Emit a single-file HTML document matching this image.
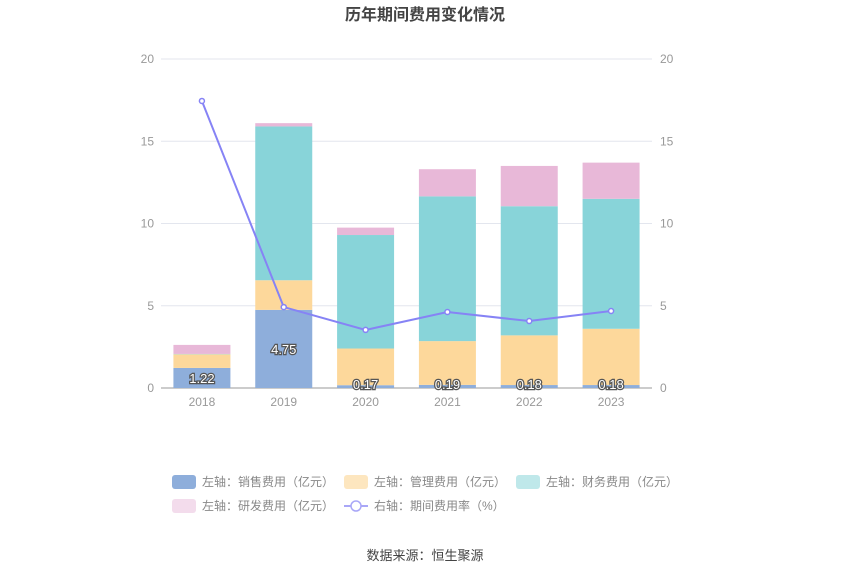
<!DOCTYPE html>
<html><head><meta charset="utf-8"><style>
body{margin:0;background:#fff;font-family:"Liberation Sans","Noto Sans CJK SC",sans-serif;}
</style></head><body>
<svg id="c" width="850" height="574" xmlns="http://www.w3.org/2000/svg" style="font-family:'Liberation Sans','Noto Sans CJK SC',sans-serif">
<text x="425" y="20" text-anchor="middle" font-size="16" font-weight="bold" fill="#444">历年期间费用变化情况</text>
<g id="grid"></g><g id="bars"></g><g id="line"></g><g id="labels"></g>
<g font-size="12" fill="#888">
<g><rect x="172" y="475" width="24" height="14" rx="3" fill="#8eaedb"/><text x="202" y="486">左轴：销售费用（亿元）</text></g>
<g><rect x="344" y="475" width="24" height="14" rx="3" fill="#fde6bf"/><text x="374" y="486">左轴：管理费用（亿元）</text></g>
<g><rect x="516" y="475" width="24" height="14" rx="3" fill="#bfe8ea"/><text x="546" y="486">左轴：财务费用（亿元）</text></g>
<g><rect x="172" y="499" width="24" height="14" rx="3" fill="#f3dcec"/><text x="202" y="510">左轴：研发费用（亿元）</text></g>
<g><line x1="344" y1="506" x2="368" y2="506" stroke="#a9a7f7" stroke-width="2"/><circle cx="356" cy="506" r="5" fill="#fff" stroke="#a9a7f7" stroke-width="1.5"/><text x="374" y="510">右轴：期间费用率（%）</text></g>
</g>
<text x="425" y="560" text-anchor="middle" font-size="13" fill="#444">数据来源：恒生聚源</text>
</svg>
<script>
const categories=["2018","2019","2020","2021","2022","2023"];
const sales=[1.22,4.75,0.17,0.19,0.18,0.18];
const mgmt=[0.83,1.8,2.23,2.66,3.02,3.42];
const finance=[0.02,9.35,6.9,8.8,7.85,7.9];
const rnd=[0.55,0.2,0.45,1.65,2.45,2.2];
const rate=[17.45,4.92,3.53,4.62,4.07,4.68];
const ticks=[0,5,10,15,20];
const NS="http://www.w3.org/2000/svg";
const x0=161,x1=652,yTop=59,yBot=388,maxV=20;
const bw=(x1-x0)/categories.length;
const y=v=>yBot-(v/maxV)*(yBot-yTop);
const cx=i=>x0+bw*(i+0.5);
function mk(t,a,p){const e=document.createElementNS(NS,t);for(const k in a)e.setAttribute(k,a[k]);p.appendChild(e);return e;}
const g=document.getElementById('grid');
ticks.forEach(t=>{
 const l=mk('line',{x1:x0,x2:x1,y1:y(t),y2:y(t),stroke:t===0?'#999':'#e3e6ee'},g);
 
 
 const a=mk('text',{x:154,y:y(t)+4,'text-anchor':'end','font-size':12,fill:'#999'},g);a.textContent=t;
 
 
 const b=mk('text',{x:660,y:y(t)+4,'font-size':12,fill:'#999'},g);b.textContent=t;
 
 
});
categories.forEach((c,i)=>{
 const t=mk('text',{x:cx(i),y:406,'text-anchor':'middle','font-size':12,fill:'#999'},g);t.textContent=c;
 
 
});
const bars=document.getElementById('bars');
const series=[[sales,'#8eaedb','sales'],[mgmt,'#fdd89b','management'],[finance,'#88d4d9','finance'],[rnd,'#e8b8d8','rnd']];
const bwid=57;
categories.forEach((c,i)=>{
 let base=0;
 series.forEach(([arr,col,nm])=>{
  const v=arr[i];
  const r=mk('rect',{x:cx(i)-bwid/2,y:y(base+v),width:bwid,height:y(base)-y(base+v),fill:col},bars);
  
  
  base+=v;
 });
});
const lab=document.getElementById('labels');
categories.forEach((c,i)=>{
 const t=mk('text',{x:cx(i),y:Math.min(y(sales[i]/2),384)+5,'text-anchor':'middle','font-size':13,fill:'#fff',stroke:'#555','stroke-width':2.5,'paint-order':'stroke'},lab);
 t.textContent=sales[i].toFixed(2);
 
 
});
const ln=document.getElementById('line');
const p=mk('polyline',{points:rate.map((v,i)=>cx(i)+','+y(v)).join(' '),fill:'none',stroke:'#8683f5','stroke-width':2},ln);


rate.forEach((v,i)=>{
 const d=mk('circle',{cx:cx(i),cy:y(v),r:2.5,fill:'#fff',stroke:'#8683f5','stroke-width':1.5},ln);
 
 
});
</script>
</body></html>
